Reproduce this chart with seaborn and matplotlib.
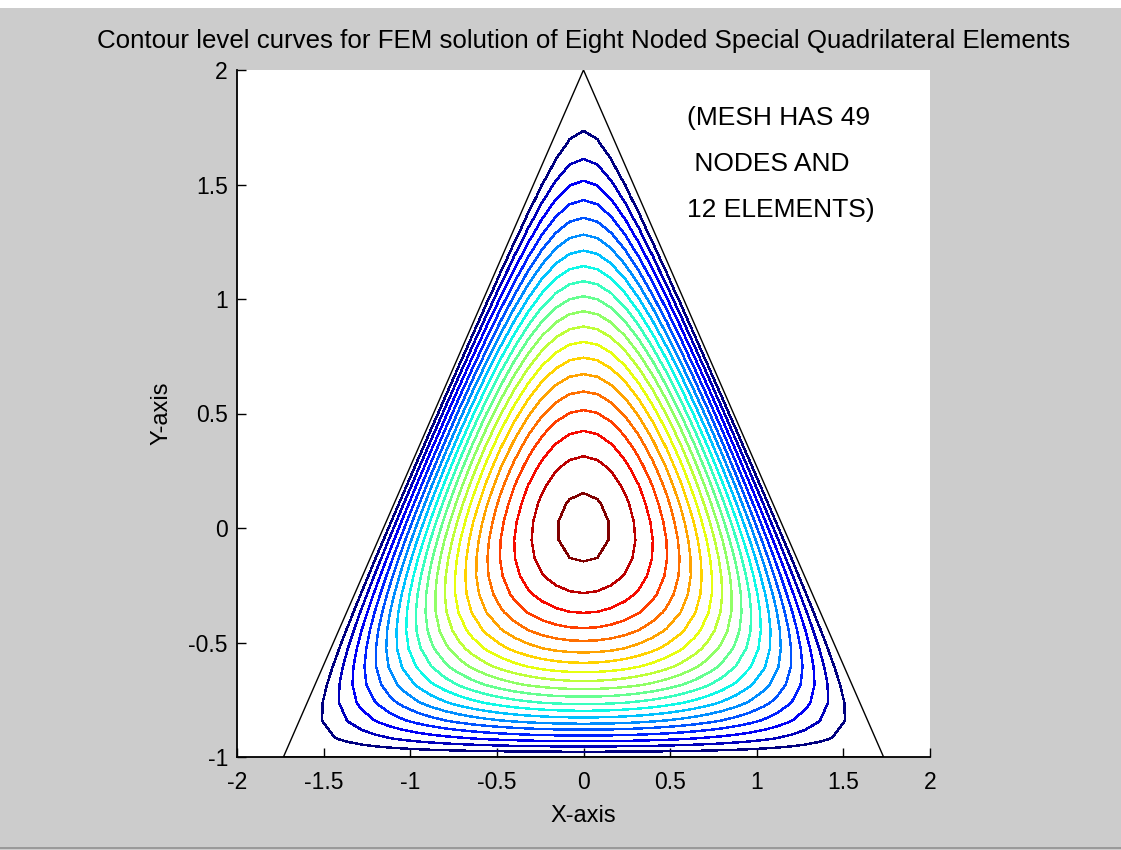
import numpy as np
import pandas as pd
import matplotlib
matplotlib.use("Agg")
import matplotlib.pyplot as plt
from matplotlib.patches import Rectangle
import seaborn as sns

# ---- data ----
# triangular domain (vertices, closed)
tri_x = [-np.sqrt(3), np.sqrt(3), 0.0, -np.sqrt(3)]
tri_y = [-1.0, -1.0, 2.0, -1.0]
# contour levels (20 equally spaced levels of the solution)
levels = [0.1965 * k for k in range(1, 21)]
x_ticks = [-2, -1.5, -1, -0.5, 0, 0.5, 1, 1.5, 2]
y_ticks = [-1, -0.5, 0, 0.5, 1, 1.5, 2]
title = "Contour level curves for FEM solution of Eight Noded Special Quadrilateral Elements"
note_lines = ["(MESH HAS 49", " NODES AND", "12 ELEMENTS)"]

# solution field on the triangle (torsion / Poisson solution), coarse grid
gx = np.linspace(-2, 2, 51)
gy = np.linspace(-1, 2, 39)
X, Y = np.meshgrid(gx, gy)
F = (Y + 1) * ((2 - Y) ** 2 - 3 * X ** 2)
inside = (Y >= -1) & (np.sqrt(3) * X + Y <= 2) & (-np.sqrt(3) * X + Y <= 2)
F = np.where(inside, F, -np.abs(F))

sns.set_style("white")
plt.rcParams['font.family'] = ['Liberation Sans', 'DejaVu Sans']
plt.rcParams['text.color'] = 'black'
plt.rcParams['axes.labelcolor'] = 'black'

fig = plt.figure(figsize=(11.21, 8.5), dpi=100)
fig.patch.set_facecolor("#cccccc")
fig.patches.append(Rectangle((0, 1 - 8/850), 1, 8/850, transform=fig.transFigure,
                             facecolor="white", edgecolor="none", zorder=0))
fig.patches.append(Rectangle((0, 1/850), 1, 2/850, transform=fig.transFigure,
                             facecolor="#9a9a9a", edgecolor="none", zorder=0))
ax = fig.add_axes([237/1121, 1 - 757/850, (930-237)/1121, (757-70)/850])
ax.set_facecolor("white")

ax.contour(X, Y, F, levels=levels, cmap="jet", vmin=levels[0], vmax=levels[-1],
           linewidths=1.0, antialiased=False)

tri_df = pd.DataFrame({"x": tri_x, "y": tri_y})
sns.lineplot(data=tri_df, x="x", y="y", sort=False, estimator=None,
             color="black", linewidth=1.0, ax=ax)

ax.set_xlim(-2, 2)
ax.set_ylim(-1, 2)
ax.set_xticks(x_ticks)
ax.set_yticks(y_ticks)
ax.set_xticklabels([f"{t:g}" for t in x_ticks])
ax.set_yticklabels([f"{t:g}" for t in y_ticks])
ax.tick_params(bottom=True, left=True, direction="in", length=6.5, width=1,
               colors="black", labelsize=16.5)
ax.tick_params(axis="x", pad=10)
ax.tick_params(axis="y", pad=6.5)
for s in ["top", "right"]:
    ax.spines[s].set_visible(False)
for s in ["left", "bottom"]:
    ax.spines[s].set_color("black")
    ax.spines[s].set_linewidth(1.3)

ax.set_xlabel("X-axis", fontsize=17, labelpad=8)
ax.set_ylabel("Y-axis", fontsize=17, labelpad=11.5)
ax.set_title(title, fontsize=18.6, pad=16)

for i, line in enumerate(note_lines):
    ax.text(0.595, 1.79 - i * 0.2, line, fontsize=19, va="center", ha="left")

fig.savefig("out.png", dpi=100, facecolor=fig.get_facecolor())
